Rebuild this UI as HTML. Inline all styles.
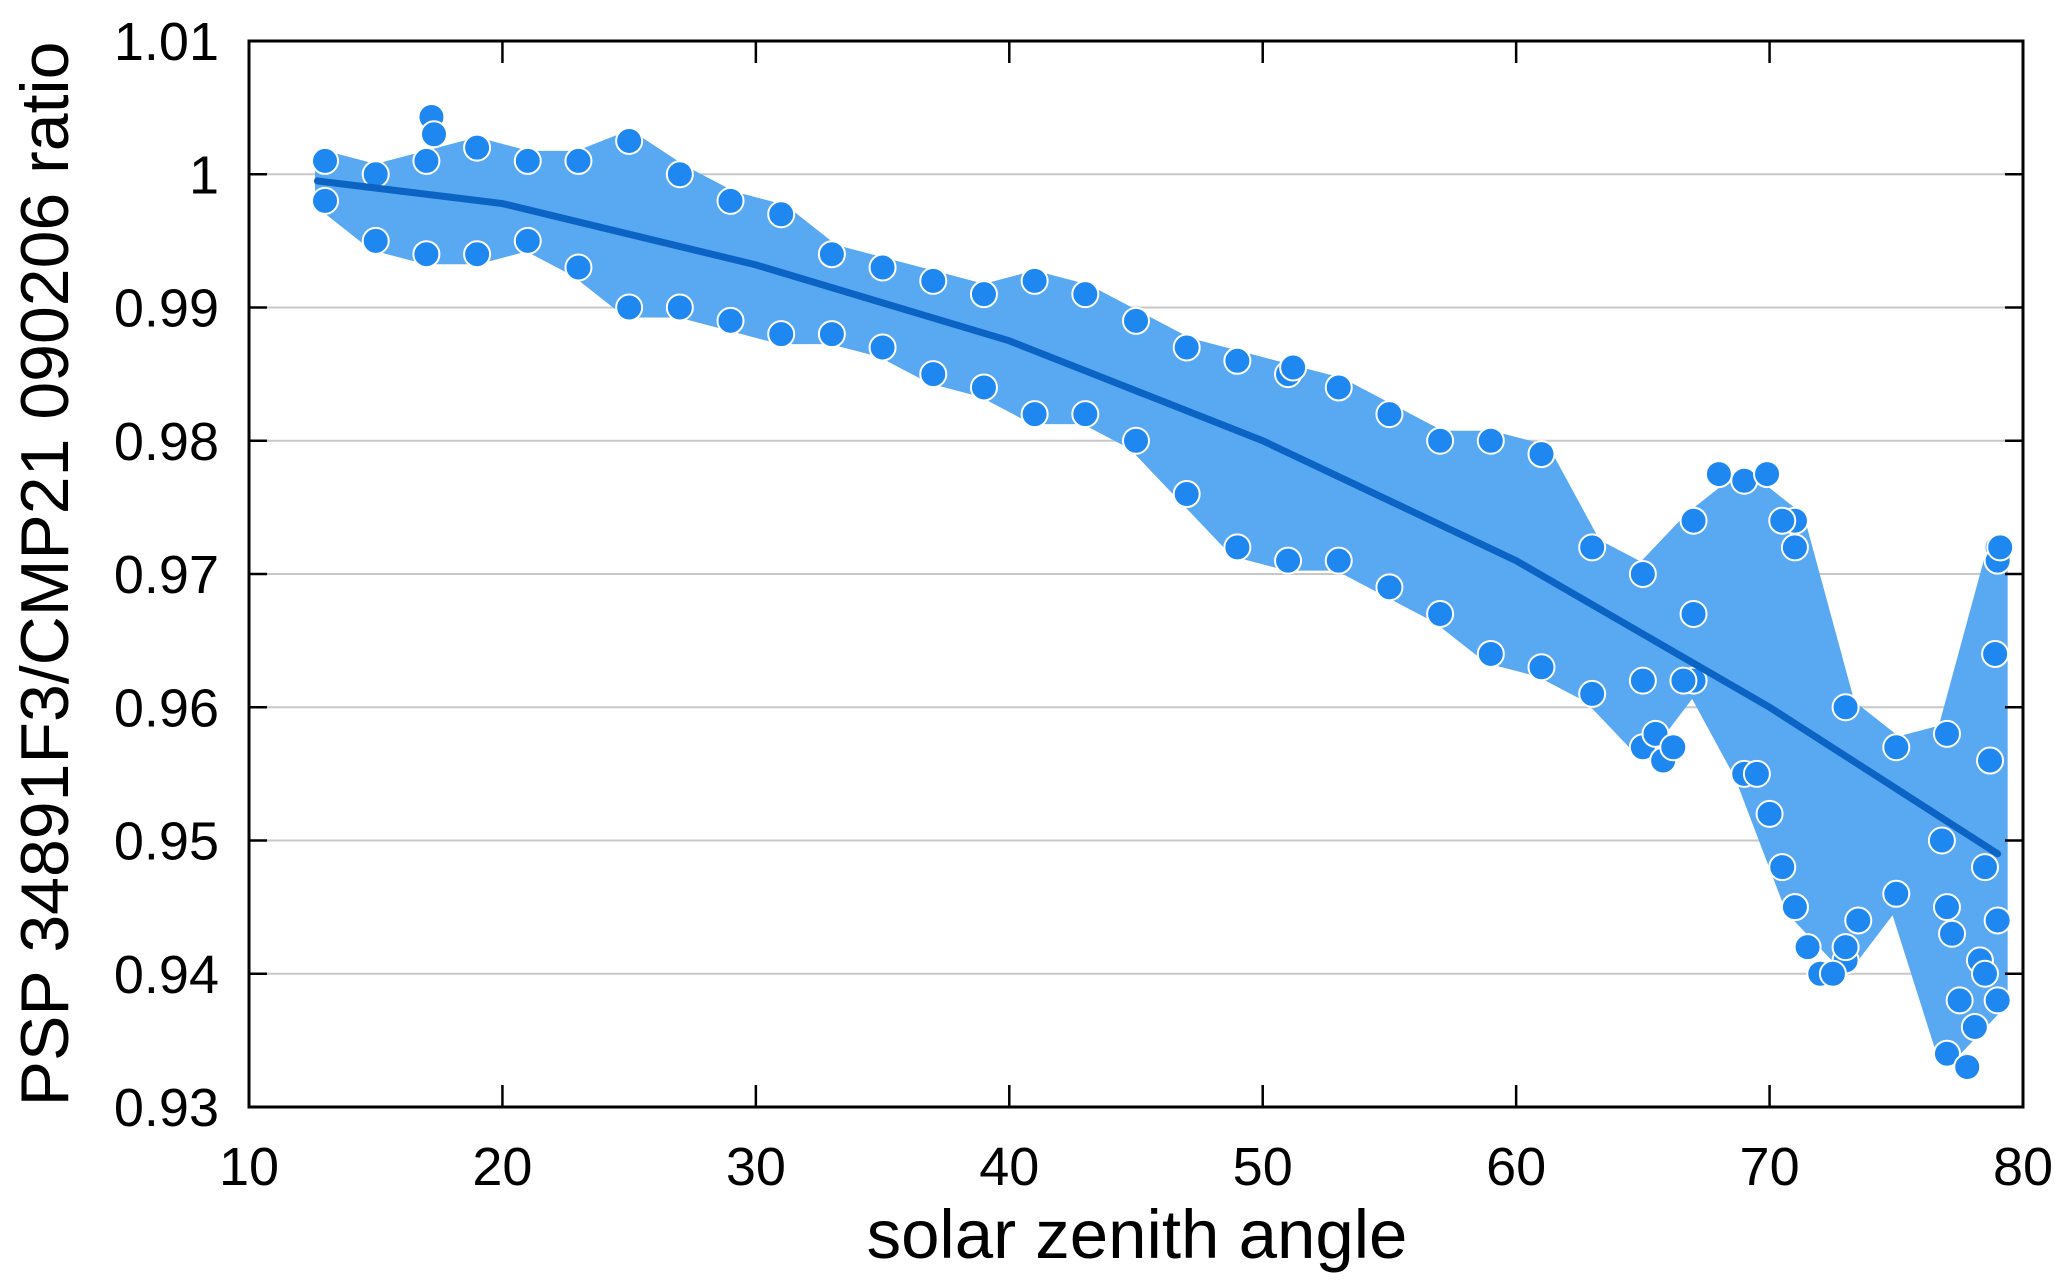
<!DOCTYPE html>
<html><head><meta charset="utf-8"><style>
html,body{margin:0;padding:0;background:#fff;}
svg{display:block;font-family:"Liberation Sans",Arial,sans-serif;}
</style></head><body>
<svg id="chart" width="2067" height="1285" viewBox="0 0 2067 1285" xmlns="http://www.w3.org/2000/svg">
<rect x="0" y="0" width="2067" height="1285" fill="#fff"/>
<g id="grid"></g>
<g id="band"></g>
<g id="pts"></g>
<g id="fit"></g>
<g id="axes"></g>
<text x="0" y="0" transform="translate(68,574) rotate(-90)" text-anchor="middle" font-size="68" fill="#000">PSP 34891F3/CMP21 090206 ratio</text>
<text x="1137" y="1258" text-anchor="middle" font-size="69" fill="#000">solar zenith angle</text>
</svg>
<script>
const xTicks=[10,20,30,40,50,60,70,80];
const yTicks=[0.93,0.94,0.95,0.96,0.97,0.98,0.99,1,1.01];
const yTickLabels=["0.93","0.94","0.95","0.96","0.97","0.98","0.99","1","1.01"];
const bandX=[13,15,17,19,21,23,25,27,29,31,33,35,37,39,41,43,45,47,49,51,53,55,57,59,61,63,65,67,69,71,73,75,77,79];
const bandUpper=[1.001,1.000,1.001,1.002,1.001,1.001,1.0025,1.000,0.998,0.997,0.994,0.993,0.992,0.991,0.992,0.991,0.989,0.987,0.986,0.985,0.984,0.982,0.980,0.980,0.979,0.972,0.970,0.974,0.977,0.974,0.960,0.957,0.958,0.972];
const bandLower=[0.998,0.995,0.994,0.994,0.995,0.993,0.990,0.990,0.989,0.988,0.988,0.987,0.985,0.984,0.982,0.982,0.980,0.976,0.972,0.971,0.971,0.969,0.967,0.964,0.963,0.961,0.957,0.962,0.955,0.945,0.941,0.946,0.934,0.938];
const extraX=[65,65.5,65.8,66.2,66.6,67,69.5,70,70.5,71,71.5,72,72.5,73,73.5,76.8,77.2,77.5,77.8,78.1,78.3,78.5,78.7,78.9,79,79.1,17.2,17.3,51.2,68,69.9,70.5,71,77,78.5,79];
const extraY=[0.962,0.958,0.956,0.957,0.962,0.967,0.955,0.952,0.948,0.945,0.942,0.940,0.940,0.942,0.944,0.950,0.943,0.938,0.933,0.936,0.941,0.948,0.956,0.964,0.971,0.972,1.0043,1.003,0.9855,0.9775,0.9775,0.974,0.972,0.945,0.940,0.944];
const fitX=[12.7,20,30,40,50,60,70,79];
const fitY=[0.9995,0.9978,0.9932,0.9875,0.9800,0.9710,0.9600,0.9490];

const L=249,R=2023,T=41,B=1107;
const sx=v=>L+(v-10)/70*(R-L);
const sy=v=>B-(v-0.93)/0.08*(B-T);
const NS="http://www.w3.org/2000/svg";
function mk(tag,parent,attrs){const e=document.createElementNS(NS,tag);for(const k in attrs)e.setAttribute(k,attrs[k]);parent.appendChild(e);return e;}
const grid=document.getElementById('grid'),axes=document.getElementById('axes'),band=document.getElementById('band'),pts=document.getElementById('pts'),fit=document.getElementById('fit');
yTicks.forEach((v,i)=>{
  const y=sy(v);
  if(i>0&&i<yTicks.length-1){const g=mk('line',grid,{x1:L,x2:R,y1:y,y2:y,stroke:'#c8c8c8','stroke-width':2});
  
  }
  const t1=mk('line',axes,{x1:L,x2:L+18,y1:y,y2:y,stroke:'#000','stroke-width':2.5});
  
  
  const t2=mk('line',axes,{x1:R-18,x2:R,y1:y,y2:y,stroke:'#000','stroke-width':2.5});
  
  
  const lb=mk('text',axes,{x:L-30,y:y+19,'text-anchor':'end','font-size':54,fill:'#000'});
  lb.textContent=yTickLabels[i];
  
  
});
xTicks.forEach(v=>{
  const x=sx(v);
  const t1=mk('line',axes,{x1:x,x2:x,y1:B,y2:B-22,stroke:'#000','stroke-width':2.5});
  
  
  const t2=mk('line',axes,{x1:x,x2:x,y1:T,y2:T+22,stroke:'#000','stroke-width':2.5});
  
  
  const lb=mk('text',axes,{x:x,y:B+78,'text-anchor':'middle','font-size':54,fill:'#000'});
  lb.textContent=String(v);
  
  
});
const frame=mk('rect',axes,{x:L,y:T,width:R-L,height:B-T,fill:'none',stroke:'#000','stroke-width':3});


let d='';
bandX.forEach((x,i)=>{d+=(i?'L':'M')+sx(x)+' '+sy(bandUpper[i]);});
for(let i=bandX.length-1;i>=0;i--)d+='L'+sx(bandX[i])+' '+sy(bandLower[i]);
const poly=mk('path',band,{d:d+'Z',fill:'#58a8f2',stroke:'#58a8f2','stroke-width':20,'stroke-linejoin':'round'});


function dot(x,y){const c=mk('circle',pts,{cx:sx(x),cy:sy(y),r:13,fill:'#1e88f0',stroke:'#fff','stroke-width':2});

}
bandX.forEach((x,i)=>{dot(x,bandUpper[i]);dot(x,bandLower[i]);});
extraX.forEach((x,i)=>dot(x,extraY[i]));
let fd='';
fitX.forEach((x,i)=>{fd+=(i?'L':'M')+sx(x)+' '+sy(fitY[i]);});
const fl=mk('path',fit,{d:fd,fill:'none',stroke:'#0b63c4','stroke-width':7,'stroke-linecap':'round'});


</script>
</body></html>
